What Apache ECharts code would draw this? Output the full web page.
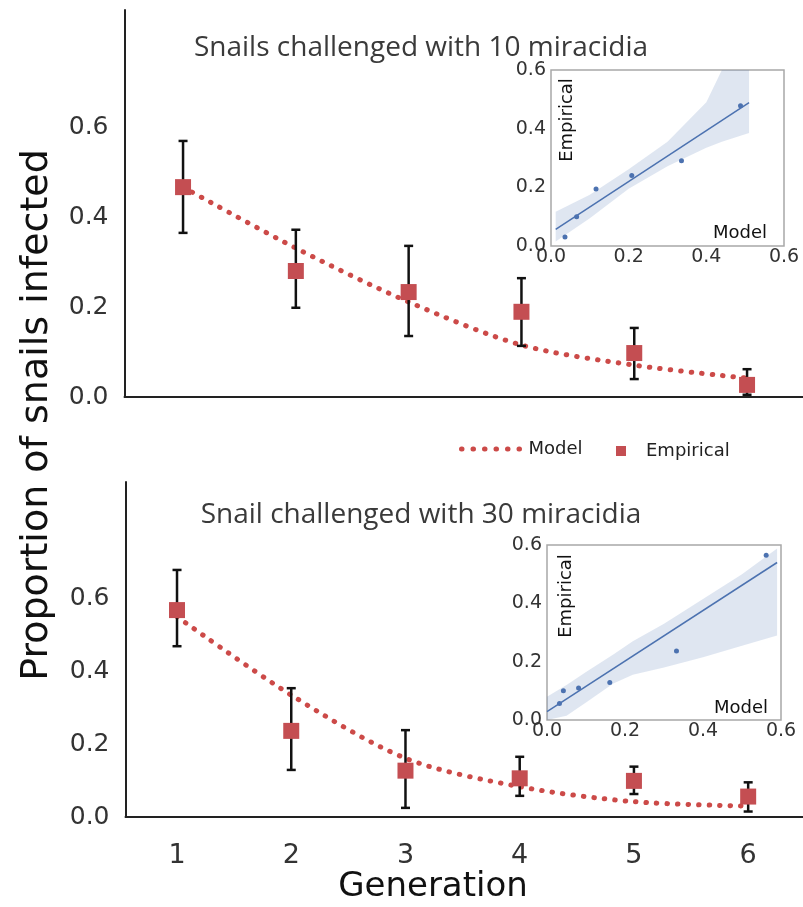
<!DOCTYPE html>
<html>
<head>
<meta charset="utf-8">
<script src="https://cdn.jsdelivr.net/npm/echarts@6/dist/echarts.min.js"></script>
<style>
html,body{margin:0;padding:0;background:#fff;}
#c{width:803px;height:907px;}
</style>
</head>
<body>
<div id="c"></div>
<script>
// ---------- data ----------
const generations = [1, 2, 3, 4, 5, 6];
const yTicks = [0, 0.2, 0.4, 0.6];
const insetTicks = [0, 0.2, 0.4, 0.6];

// Panel A: 10 miracidia
const empA = [0.468, 0.281, 0.234, 0.190, 0.098, 0.027];
const errHiA = [0.571, 0.373, 0.337, 0.265, 0.154, 0.062];
const errLoA = [0.366, 0.199, 0.136, 0.114, 0.040, 0.005];
const modelA = [0.468, 0.332, 0.212, 0.116, 0.071, 0.042];

// Panel B: 30 miracidia
const empB = [0.567, 0.236, 0.127, 0.106, 0.099, 0.056];
const errHiB = [0.677, 0.353, 0.238, 0.165, 0.138, 0.095];
const errLoB = [0.468, 0.129, 0.025, 0.058, 0.063, 0.015];
const modelB = [0.549, 0.334, 0.161, 0.083, 0.042, 0.030];

// Insets (model vs empirical)
const insetPtsAx = [0.036, 0.066, 0.116, 0.208, 0.336, 0.488];
const insetPtsAy = [0.031, 0.100, 0.194, 0.240, 0.291, 0.478];
const fitLineAx = [0.012, 0.51];
const fitLineAy = [0.057, 0.489];
const bandAx = [0.012, 0.1, 0.2, 0.3, 0.4, 0.44, 0.51];
const bandAupper = [0.117, 0.175, 0.262, 0.355, 0.49, 0.6, 0.6];
const bandAlower = [0.015, 0.095, 0.195, 0.272, 0.335, 0.355, 0.385];

const insetPtsBx = [0.032, 0.042, 0.081, 0.161, 0.332, 0.562];
const insetPtsBy = [0.057, 0.100, 0.110, 0.129, 0.237, 0.565];
const fitLineBx = [0.0, 0.59];
const fitLineBy = [0.029, 0.54];
const bandBx = [0.0, 0.05, 0.1, 0.17, 0.22, 0.3, 0.4, 0.5, 0.59];
const bandBupper = [0.08, 0.12, 0.165, 0.225, 0.27, 0.33, 0.415, 0.5, 0.588];
const bandBlower = [0.0, 0.015, 0.06, 0.125, 0.155, 0.18, 0.215, 0.255, 0.29];

// ---------- styles ----------
const RED = '#c44e52';
const DOT = '#cc4a48';
const BLUE = '#4c72b0';
const AXFONT = 'DejaVu Sans';
const DOTSTYLE = { color: DOT, width: 5, type: [0.5, 10], cap: 'round' };

function pairs(xs, ys) { return xs.map((x, i) => [x, ys[i]]); }
function errData(lo, hi) { return generations.map((g, i) => [g, lo[i], hi[i]]); }

function errRender(params, api) {
  const x = api.value(0);
  const p1 = api.coord([x, api.value(2)]);
  const p2 = api.coord([x, api.value(1)]);
  const cw = 4.5;
  const st = { stroke: '#111', lineWidth: 2.5 };
  return {
    type: 'group',
    children: [
      { type: 'line', shape: { x1: p1[0], y1: p1[1], x2: p2[0], y2: p2[1] }, style: st },
      { type: 'line', shape: { x1: p1[0] - cw, y1: p1[1], x2: p1[0] + cw, y2: p1[1] }, style: st },
      { type: 'line', shape: { x1: p2[0] - cw, y1: p2[1], x2: p2[0] + cw, y2: p2[1] }, style: st }
    ]
  };
}

function bandRender(bx, up, lo) {
  return function (params, api) {
    const pts = [];
    for (let i = 0; i < bx.length; i++) pts.push(api.coord([bx[i], up[i]]));
    for (let i = bx.length - 1; i >= 0; i--) pts.push(api.coord([bx[i], lo[i]]));
    return { type: 'polygon', shape: { points: pts }, style: { fill: 'rgba(76,114,176,0.18)' } };
  };
}

function mainY(gridIndex, max) {
  return {
    type: 'value', gridIndex: gridIndex, min: 0, max: max,
    splitLine: { show: false },
    axisLine: { show: true, lineStyle: { color: '#222', width: 2 } },
    axisTick: { show: false },
    axisLabel: { customValues: yTicks, formatter: v => v.toFixed(1), fontFamily: AXFONT, fontSize: 25, color: '#333', margin: 16 }
  };
}
function insetAxis(gridIndex, isX) {
  return {
    type: 'value', gridIndex: gridIndex, min: 0, max: 0.6, interval: 0.2,
    splitLine: { show: false }, axisLine: { show: false }, axisTick: { show: false },
    axisLabel: { formatter: v => v.toFixed(1), fontFamily: AXFONT, fontSize: 19, color: '#333', margin: isX ? 2 : 5 }
  };
}

const chart = echarts.init(document.getElementById('c'), null, { renderer: 'canvas' });
chart.setOption({
  animation: false,
  backgroundColor: '#fff',
  grid: [
    { left: 124.5, top: 10, right: 0, height: 387 },
    { left: 125.5, top: 482, right: 0, height: 335 },
    { left: 551, top: 70, width: 233, height: 176, show: true, borderColor: '#a8a8a8', borderWidth: 1.5, backgroundColor: '#fff', z: 3 },
    { left: 547, top: 545, width: 234, height: 175, show: true, borderColor: '#a8a8a8', borderWidth: 1.5, backgroundColor: '#fff', z: 3 }
  ],
  xAxis: [
    { type: 'value', gridIndex: 0, min: 0.481, max: 6.496, splitLine: { show: false },
      axisLine: { lineStyle: { color: '#222', width: 2 } }, axisTick: { show: false }, axisLabel: { show: false } },
    { type: 'value', gridIndex: 1, min: 0.549, max: 6.48, splitLine: { show: false },
      axisLine: { lineStyle: { color: '#222', width: 2 } }, axisTick: { show: false },
      axisLabel: { customValues: generations, fontFamily: AXFONT, fontSize: 27, color: '#333', margin: 25 } },
    insetAxis(2, true),
    insetAxis(3, true)
  ],
  yAxis: [
    mainY(0, 0.863),
    mainY(1, 0.918),
    insetAxis(2, false),
    insetAxis(3, false)
  ],
  legend: [
    { data: ['Model'], left: 459, top: 440, itemWidth: 60, itemHeight: 14, padding: 0,
      itemStyle: { opacity: 0 },
      lineStyle: { color: DOT, width: 5, type: [0.5, 11], cap: 'round' },
      textStyle: { fontFamily: AXFONT, fontSize: 18, color: '#222', padding: [0, 0, 0, 2] } },
    { data: ['Empirical'], left: 616, top: 442, itemWidth: 10, itemHeight: 10, padding: 0,
      textStyle: { fontFamily: AXFONT, fontSize: 18, color: '#222', padding: [0, 0, 0, 15] } }
  ],
  graphic: [
    { type: 'text', x: 421, y: 48, style: { text: 'Snails challenged with 10 miracidia', font: '28px "Open Sans"', fill: '#3a3a3a', align: 'center', verticalAlign: 'middle' } },
    { type: 'text', x: 421, y: 515, style: { text: 'Snail challenged with 30 miracidia', font: '28px "Open Sans"', fill: '#3a3a3a', align: 'center', verticalAlign: 'middle' } },
    { type: 'text', x: 37, y: 415, rotation: Math.PI / 2, style: { text: 'Proportion of snails infected', font: '38px "DejaVu Sans"', fill: '#111', align: 'center', verticalAlign: 'middle' } },
    { type: 'text', x: 433, y: 887, style: { text: 'Generation', font: '34px "DejaVu Sans"', fill: '#111', align: 'center', verticalAlign: 'middle' } },
    { type: 'text', x: 567, y: 120, rotation: Math.PI / 2, z: 100, style: { text: 'Empirical', font: '18px "DejaVu Sans"', fill: '#111', align: 'center', verticalAlign: 'middle' } },
    { type: 'text', x: 566, y: 596, rotation: Math.PI / 2, z: 100, style: { text: 'Empirical', font: '18px "DejaVu Sans"', fill: '#111', align: 'center', verticalAlign: 'middle' } },
    { type: 'text', x: 740, y: 233, z: 100, style: { text: 'Model', font: '18px "DejaVu Sans"', fill: '#111', align: 'center', verticalAlign: 'middle' } },
    { type: 'text', x: 741, y: 708, z: 100, style: { text: 'Model', font: '18px "DejaVu Sans"', fill: '#111', align: 'center', verticalAlign: 'middle' } }
  ],
  series: [
    // Panel A
    { type: 'line', name: 'Model', xAxisIndex: 0, yAxisIndex: 0, data: pairs(generations, modelA), symbol: 'none', smooth: 0.3, z: 2,
      lineStyle: DOTSTYLE, itemStyle: { color: DOT } },
    { type: 'custom', xAxisIndex: 0, yAxisIndex: 0, data: errData(errLoA, errHiA), renderItem: errRender, encode: { x: 0, y: [1, 2] }, z: 3 },
    { type: 'scatter', name: 'Empirical', xAxisIndex: 0, yAxisIndex: 0, data: pairs(generations, empA), symbol: 'rect', symbolSize: 16, itemStyle: { color: RED, opacity: 1 }, z: 4 },
    // Panel B
    { type: 'line', name: 'Model', xAxisIndex: 1, yAxisIndex: 1, data: pairs(generations, modelB), symbol: 'none', smooth: 0.3, z: 2,
      lineStyle: DOTSTYLE, itemStyle: { color: DOT } },
    { type: 'custom', xAxisIndex: 1, yAxisIndex: 1, data: errData(errLoB, errHiB), renderItem: errRender, encode: { x: 0, y: [1, 2] }, z: 3 },
    { type: 'scatter', name: 'Empirical', xAxisIndex: 1, yAxisIndex: 1, data: pairs(generations, empB), symbol: 'rect', symbolSize: 16, itemStyle: { color: RED, opacity: 1 }, z: 4 },
    // Inset A
    { type: 'custom', xAxisIndex: 2, yAxisIndex: 2, data: [[0, 0]], renderItem: bandRender(bandAx, bandAupper, bandAlower), silent: true, z: 5 },
    { type: 'line', xAxisIndex: 2, yAxisIndex: 2, data: pairs(fitLineAx, fitLineAy), symbol: 'none', lineStyle: { color: BLUE, width: 1.5 }, z: 6 },
    { type: 'scatter', xAxisIndex: 2, yAxisIndex: 2, data: pairs(insetPtsAx, insetPtsAy), symbolSize: 5, itemStyle: { color: BLUE, opacity: 1 }, z: 7 },
    // Inset B
    { type: 'custom', xAxisIndex: 3, yAxisIndex: 3, data: [[0, 0]], renderItem: bandRender(bandBx, bandBupper, bandBlower), silent: true, z: 5 },
    { type: 'line', xAxisIndex: 3, yAxisIndex: 3, data: pairs(fitLineBx, fitLineBy), symbol: 'none', lineStyle: { color: BLUE, width: 1.5 }, z: 6 },
    { type: 'scatter', xAxisIndex: 3, yAxisIndex: 3, data: pairs(insetPtsBx, insetPtsBy), symbolSize: 5, itemStyle: { color: BLUE, opacity: 1 }, z: 7 }
  ]
});
</script>
</body>
</html>
